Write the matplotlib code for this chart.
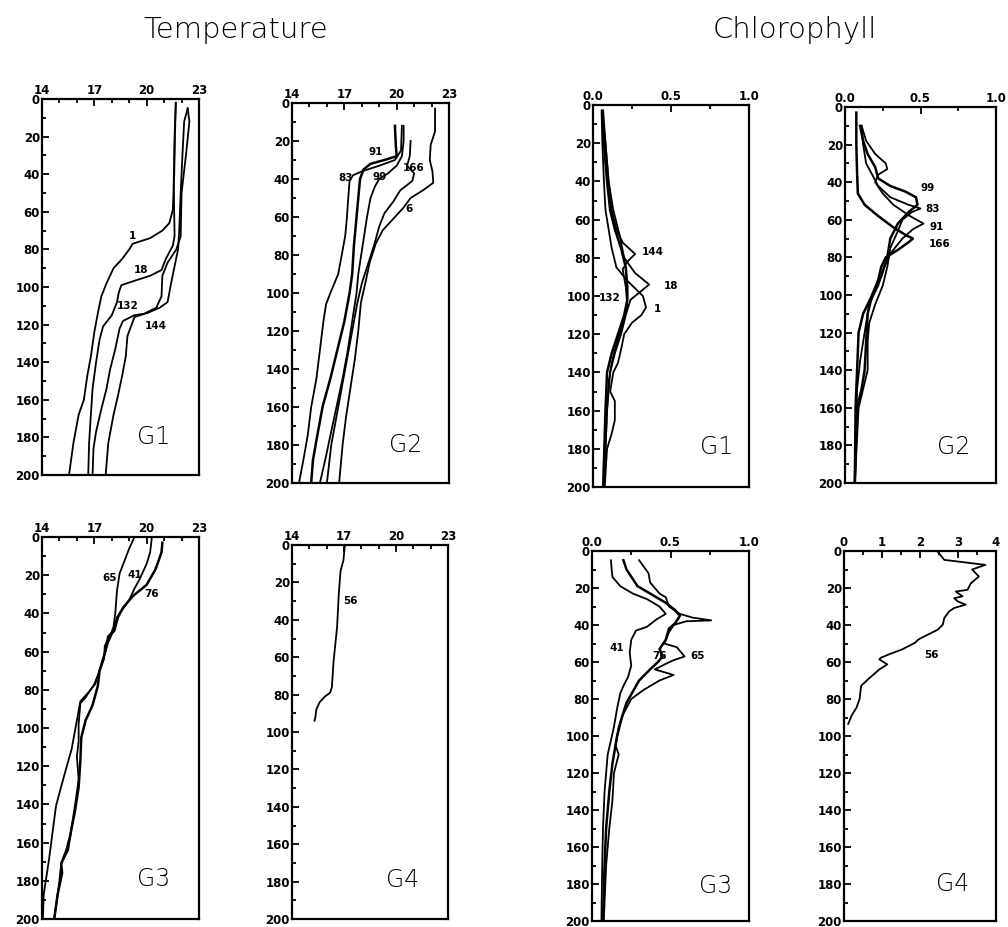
import matplotlib.pyplot as plt
from matplotlib.ticker import MultipleLocator

# ---- Temperature profiles (deg C vs depth m) ----
# G1
t_g1_s1_z = [2, 20, 40, 59, 66, 70, 74, 77, 80, 85, 90, 98, 105, 114, 124, 137, 147, 160, 168, 183, 200]
t_g1_s1_v = [21.67, 21.62, 21.58, 21.5, 21.3, 20.9, 20.2, 19.2, 19.0, 18.6, 18.1, 17.7, 17.4, 17.2, 17.0, 16.8, 16.6, 16.4, 16.1, 15.8, 15.55]
t_g1_s18_z = [2, 20, 45, 73, 78, 85, 91, 94, 97, 99, 103, 108, 115, 121, 128, 140, 154, 168, 183, 200]
t_g1_s18_v = [21.67, 21.6, 21.55, 21.6, 21.5, 21.1, 20.85, 20.2, 19.2, 18.55, 18.4, 18.3, 18.0, 17.5, 17.3, 17.1, 16.9, 16.8, 16.7, 16.65]
t_g1_s132_z = [5, 12, 30, 50, 71, 80, 89, 98, 108, 111, 114, 115, 118, 122, 133, 144, 154, 165, 177, 186, 200]
t_g1_s132_v = [22.35, 22.15, 22.05, 21.95, 21.86, 21.8, 21.6, 21.4, 21.2, 20.75, 20.0, 19.3, 18.65, 18.45, 18.2, 17.9, 17.7, 17.4, 17.1, 16.95, 16.9]
t_g1_s144_z = [5, 12, 30, 50, 73, 80, 87, 94, 105, 111, 114.5, 116, 121, 126, 137, 147, 158, 168, 183, 200]
t_g1_s144_v = [22.35, 22.45, 22.25, 22.0, 21.95, 21.7, 21.2, 20.9, 20.85, 20.55, 19.8, 19.3, 19.1, 18.9, 18.8, 18.6, 18.35, 18.1, 17.8, 17.65]

# G2
t_g2_s83_z = [12, 25, 30, 33, 36, 38, 41, 47, 53, 60, 70, 80, 90, 100, 106, 115, 130, 145, 160, 175, 188, 200]
t_g2_s83_v = [20.3, 20.25, 19.9, 19.0, 18.0, 17.5, 17.3, 17.25, 17.2, 17.15, 17.05, 16.85, 16.65, 16.2, 15.95, 15.8, 15.6, 15.4, 15.1, 14.9, 14.65, 14.4]
t_g2_s91_z = [12, 22, 28, 30, 32, 35, 40, 50, 60, 75, 90, 100, 115, 130, 145, 160, 175, 188, 200]
t_g2_s91_v = [19.9, 19.95, 20.0, 19.3, 18.5, 18.1, 17.9, 17.8, 17.7, 17.55, 17.45, 17.3, 17.0, 16.6, 16.2, 15.75, 15.45, 15.2, 15.1]
t_g2_s99_z = [12, 20, 28, 33, 37, 40, 44, 50, 60, 75, 90, 100, 115, 130, 145, 160, 175, 188, 200]
t_g2_s99_v = [20.4, 20.4, 20.3, 20.0, 19.5, 19.0, 18.75, 18.5, 18.3, 18.05, 17.8, 17.7, 17.45, 17.2, 16.9, 16.55, 16.2, 15.9, 15.6]
t_g2_s166_z = [20, 28, 33, 37, 41, 46, 52, 58, 65, 75, 85, 95, 105, 120, 135, 150, 165, 180, 200]
t_g2_s166_v = [20.8, 20.75, 20.6, 21.0, 20.9, 20.2, 19.8, 19.3, 19.0, 18.7, 18.35, 18.0, 17.75, 17.45, 17.15, 16.85, 16.55, 16.25, 16.0]
t_g2_s6_z = [3, 15, 22, 30, 36, 42, 46, 50, 55, 61, 67, 74, 84, 95, 105, 120, 135, 150, 165, 180, 200]
t_g2_s6_v = [22.2, 22.2, 21.95, 21.9, 22.05, 22.1, 21.5, 20.8, 20.4, 19.8, 19.2, 18.8, 18.45, 18.2, 17.95, 17.8, 17.6, 17.35, 17.1, 16.9, 16.7]

# G3
t_g3_s65_z = [0, 6, 12, 19, 28, 40, 47, 52, 57, 64, 70, 77, 84, 87, 98, 107, 115, 127, 140, 152, 164, 171, 180, 190, 200]
t_g3_s65_v = [19.3, 19.0, 18.75, 18.45, 18.3, 18.2, 18.1, 17.9, 17.6, 17.55, 17.3, 17.0, 16.5, 16.2, 16.1, 16.1, 16.0, 16.1, 15.9, 15.7, 15.5, 15.1, 15.0, 14.85, 14.7]
t_g3_s41_z = [0, 8, 14, 18, 22, 27, 33, 38, 42, 49, 55, 61, 70, 77, 82, 86, 96, 111, 124, 134, 141, 155, 169, 178, 187, 200]
t_g3_s41_v = [20.3, 20.2, 20.0, 19.8, 19.6, 19.3, 19.0, 18.6, 18.3, 18.1, 17.8, 17.6, 17.3, 17.05, 16.6, 16.2, 16.0, 15.7, 15.3, 15.0, 14.8, 14.6, 14.4, 14.25, 14.1, 14.05]
t_g3_s76_z = [3, 8, 12, 17, 25, 31, 37, 42, 49, 52, 61, 70, 78, 88, 96, 105, 117, 131, 143, 157, 164, 171, 176, 187, 200]
t_g3_s76_v = [20.9, 20.85, 20.7, 20.5, 20.0, 19.2, 18.65, 18.35, 18.15, 17.8, 17.6, 17.3, 17.2, 16.9, 16.5, 16.25, 16.2, 16.1, 15.9, 15.6, 15.4, 15.1, 15.15, 14.9, 14.7]

# G4
t_g4_s56_z = [0, 8, 14, 26, 44, 53, 62, 76, 79, 81, 84, 88, 92, 94]
t_g4_s56_v = [17.05, 16.97, 16.8, 16.7, 16.6, 16.5, 16.4, 16.3, 16.2, 15.9, 15.6, 15.4, 15.35, 15.3]

# ---- Chlorophyll profiles ----
# G1
c_g1_s144_z = [3, 20, 40, 55, 65, 72, 78, 82, 86, 95, 105, 115, 125, 135, 145, 160, 180, 200]
c_g1_s144_v = [0.065, 0.08, 0.10, 0.12, 0.15, 0.19, 0.27, 0.22, 0.19, 0.21, 0.22, 0.19, 0.15, 0.12, 0.10, 0.09, 0.08, 0.07]
c_g1_s18_z = [3, 20, 40, 55, 68, 80, 88, 94, 98, 102, 110, 120, 130, 140, 160, 180, 200]
c_g1_s18_v = [0.06, 0.08, 0.10, 0.13, 0.17, 0.20, 0.27, 0.36, 0.30, 0.24, 0.21, 0.18, 0.14, 0.11, 0.09, 0.08, 0.07]
c_g1_s1_z = [3, 20, 40, 55, 65, 75, 85, 92, 100, 106, 110, 114, 120, 128, 135, 140, 150, 155, 165, 172, 180, 200]
c_g1_s1_v = [0.055, 0.06, 0.07, 0.08, 0.10, 0.12, 0.15, 0.22, 0.32, 0.34, 0.31, 0.25, 0.20, 0.18, 0.16, 0.13, 0.11, 0.14, 0.14, 0.12, 0.09, 0.075]
c_g1_s132_z = [3, 20, 40, 55, 65, 75, 85, 95, 102, 110, 120, 130, 140, 160, 200]
c_g1_s132_v = [0.06, 0.07, 0.09, 0.11, 0.14, 0.18, 0.21, 0.22, 0.22, 0.20, 0.16, 0.12, 0.09, 0.08, 0.065]

# G2
c_g2_s99_z = [10, 18, 25, 32, 38, 42, 45, 48, 52, 56, 62, 70, 80, 90, 100, 110, 120, 140, 160, 200]
c_g2_s99_v = [0.10, 0.12, 0.15, 0.20, 0.22, 0.30, 0.40, 0.47, 0.48, 0.42, 0.35, 0.30, 0.28, 0.24, 0.18, 0.12, 0.09, 0.08, 0.07, 0.065]
c_g2_s83_z = [10, 20, 30, 36, 42, 48, 52, 54, 56, 60, 66, 75, 85, 95, 105, 115, 125, 140, 150, 160, 200]
c_g2_s83_v = [0.11, 0.12, 0.14, 0.18, 0.22, 0.30, 0.42, 0.50, 0.44, 0.38, 0.35, 0.30, 0.28, 0.25, 0.20, 0.16, 0.15, 0.15, 0.12, 0.09, 0.065]
c_g2_s91_z = [10, 18, 25, 30, 33, 36, 40, 46, 52, 58, 62, 65, 70, 78, 85, 95, 105, 120, 135, 150, 200]
c_g2_s91_v = [0.11, 0.14, 0.20, 0.27, 0.28, 0.22, 0.20, 0.25, 0.32, 0.43, 0.52, 0.45, 0.38, 0.30, 0.26, 0.22, 0.16, 0.13, 0.10, 0.08, 0.065]
c_g2_s166_z = [3, 20, 35, 46, 52, 58, 64, 68, 70, 72, 76, 80, 85, 92, 100, 110, 125, 140, 150, 160, 200]
c_g2_s166_v = [0.075, 0.075, 0.08, 0.085, 0.13, 0.22, 0.32, 0.40, 0.45, 0.42, 0.35, 0.27, 0.24, 0.22, 0.18, 0.15, 0.14, 0.13, 0.11, 0.08, 0.065]

# G3
c_g3_s41_z = [5, 14, 19, 23, 26, 30, 34, 37, 41, 43, 48, 55, 62, 68, 73, 77, 85, 95, 110, 130, 150, 170, 200]
c_g3_s41_v = [0.12, 0.13, 0.18, 0.26, 0.35, 0.43, 0.47, 0.41, 0.35, 0.28, 0.25, 0.24, 0.25, 0.23, 0.20, 0.18, 0.16, 0.14, 0.10, 0.08, 0.07, 0.065, 0.06]
c_g3_s76_z = [5, 10, 19, 24, 28, 32, 35, 39, 42, 48, 53, 57, 60, 64, 70, 76, 82, 90, 100, 115, 130, 150, 170, 200]
c_g3_s76_v = [0.20, 0.22, 0.29, 0.39, 0.47, 0.53, 0.56, 0.53, 0.49, 0.47, 0.43, 0.45, 0.42, 0.37, 0.30, 0.26, 0.22, 0.19, 0.16, 0.13, 0.11, 0.09, 0.08, 0.07]
c_g3_s65_z = [5, 12, 17, 23, 25, 30, 34, 36, 37.5, 38, 40, 44, 50, 52, 57, 59, 61, 64, 67, 70, 75, 80, 88, 95, 105, 110, 120, 135, 150, 170, 200]
c_g3_s65_v = [0.30, 0.36, 0.37, 0.43, 0.47, 0.49, 0.56, 0.64, 0.76, 0.60, 0.52, 0.49, 0.46, 0.54, 0.59, 0.52, 0.47, 0.40, 0.52, 0.43, 0.33, 0.25, 0.20, 0.17, 0.15, 0.17, 0.14, 0.13, 0.11, 0.09, 0.075]

# G4
c_g4_s56_z = [0, 4.8, 7.5, 10, 13.8, 17.4, 21, 21.9, 24.5, 25.5, 27.2, 29, 30.8, 32.6, 36.2, 39.8, 42.5, 46, 47.8, 49.6,
              51.4, 53.2, 55.9, 57.7, 58.6, 61.3, 64, 69.4, 72.9, 80, 84.6, 89, 93.5]
c_g4_s56_v = [2.45, 2.64, 3.72, 3.37, 3.55, 3.34, 3.25, 2.94, 3.12, 2.9, 2.99, 3.2, 2.9, 2.77, 2.64, 2.6, 2.47, 2.13, 1.96, 1.87,
              1.7, 1.53, 1.18, 0.97, 0.93, 1.14, 0.93, 0.63, 0.45, 0.41, 0.33, 0.2, 0.11]

temp_ticks = [14, 17, 20, 23]
chl_ticks = [0.0, 0.5, 1.0]
chl_tick_labels = ['0.0', '0.5', '1.0']
chl_g4_ticks = [0, 1, 2, 3, 4]

W, H = 1008, 927
fig = plt.figure(figsize=(W / 100, H / 100), dpi=100)


def make_axes(x0, y0, x1, y1):
    # pixel box -> figure fraction
    return fig.add_axes([x0 / W, 1 - y1 / H, (x1 - x0) / W, (y1 - y0) / H])


def style(ax, xlim, ticks, labels, minor):
    ax.set_xlim(*xlim)
    ax.set_ylim(200, 0)
    ax.xaxis.tick_top()
    ax.set_xticks(ticks)
    ax.set_xticklabels(labels)
    ax.xaxis.set_minor_locator(MultipleLocator(minor))
    ax.yaxis.set_major_locator(MultipleLocator(20))
    ax.yaxis.set_minor_locator(MultipleLocator(10))
    ax.tick_params(which='both', direction='in', top=True, bottom=False,
                   left=True, right=False, width=1.3, colors='black')
    ax.tick_params(which='major', length=5, labelsize=8.5, pad=1.5)
    ax.tick_params(which='minor', length=3)
    for lab in ax.get_xticklabels() + ax.get_yticklabels():
        lab.set_fontweight('bold')
    for sp in ax.spines.values():
        sp.set_linewidth(1.6)


def profile(ax, z, v, lw=1.3):
    ax.plot(v, z, color='black', lw=lw, solid_joinstyle='round')


def tag(ax, x, z, s):
    ax.text(x, z, s, fontsize=7.5, fontweight='bold', ha='center', va='center')


def panel_name(ax, x, z, s):
    ax.text(x, z, s, fontsize=17, fontweight='light', ha='center', va='center')


# Temperature G1
ax = make_axes(42, 99, 199, 475)
style(ax, (14, 23), temp_ticks, temp_ticks, 1)
profile(ax, t_g1_s1_z, t_g1_s1_v)
profile(ax, t_g1_s18_z, t_g1_s18_v)
profile(ax, t_g1_s132_z, t_g1_s132_v)
profile(ax, t_g1_s144_z, t_g1_s144_v)
tag(ax, 19.2, 73, '1')
tag(ax, 19.7, 91, '18')
tag(ax, 18.9, 110, '132')
tag(ax, 20.5, 121, '144')
panel_name(ax, 20.4, 180, 'G1')

# Temperature G2
ax = make_axes(292, 103, 449, 483)
style(ax, (14, 23), temp_ticks, temp_ticks, 1)
profile(ax, t_g2_s83_z, t_g2_s83_v)
profile(ax, t_g2_s91_z, t_g2_s91_v, lw=1.8)
profile(ax, t_g2_s99_z, t_g2_s99_v)
profile(ax, t_g2_s166_z, t_g2_s166_v)
profile(ax, t_g2_s6_z, t_g2_s6_v)
tag(ax, 18.8, 26, '91')
tag(ax, 17.05, 39.5, '83')
tag(ax, 19.0, 38.7, '99')
tag(ax, 21.0, 34, '166')
tag(ax, 20.7, 56, '6')
panel_name(ax, 20.5, 180, 'G2')

# Chlorophyll G1
ax = make_axes(593, 105, 749, 487)
style(ax, (0, 1), chl_ticks, chl_tick_labels, 0.25)
profile(ax, c_g1_s144_z, c_g1_s144_v)
profile(ax, c_g1_s18_z, c_g1_s18_v)
profile(ax, c_g1_s1_z, c_g1_s1_v)
profile(ax, c_g1_s132_z, c_g1_s132_v, lw=1.8)
tag(ax, 0.385, 77, '144')
tag(ax, 0.50, 95, '18')
tag(ax, 0.41, 107, '1')
tag(ax, 0.107, 101, '132')
panel_name(ax, 0.79, 179, 'G1')

# Chlorophyll G2
ax = make_axes(845, 107, 996, 483)
style(ax, (0, 1), chl_ticks, chl_tick_labels, 0.25)
profile(ax, c_g2_s99_z, c_g2_s99_v, lw=1.8)
profile(ax, c_g2_s83_z, c_g2_s83_v)
profile(ax, c_g2_s91_z, c_g2_s91_v)
profile(ax, c_g2_s166_z, c_g2_s166_v, lw=1.8)
tag(ax, 0.55, 43, '99')
tag(ax, 0.58, 54.5, '83')
tag(ax, 0.61, 64, '91')
tag(ax, 0.63, 73, '166')
panel_name(ax, 0.72, 181, 'G2')

# Temperature G3
ax = make_axes(42, 537, 199, 919)
style(ax, (14, 23), temp_ticks, temp_ticks, 1)
profile(ax, t_g3_s65_z, t_g3_s65_v)
profile(ax, t_g3_s41_z, t_g3_s41_v)
profile(ax, t_g3_s76_z, t_g3_s76_v, lw=1.8)
tag(ax, 17.9, 21.7, '65')
tag(ax, 19.3, 19.9, '41')
tag(ax, 20.3, 29.6, '76')
panel_name(ax, 20.4, 179, 'G3')

# Temperature G4
ax = make_axes(292, 545, 448, 919)
style(ax, (14, 23), temp_ticks, temp_ticks, 1)
profile(ax, t_g4_s56_z, t_g4_s56_v)
tag(ax, 17.35, 29.8, '56')
panel_name(ax, 20.4, 179, 'G4')

# Chlorophyll G3
ax = make_axes(592, 551, 749, 921)
style(ax, (0, 1), chl_ticks, chl_tick_labels, 0.25)
profile(ax, c_g3_s41_z, c_g3_s41_v)
profile(ax, c_g3_s76_z, c_g3_s76_v, lw=1.8)
profile(ax, c_g3_s65_z, c_g3_s65_v)
tag(ax, 0.155, 52.3, '41')
tag(ax, 0.43, 57, '76')
tag(ax, 0.675, 57, '65')
panel_name(ax, 0.79, 181, 'G3')

# Chlorophyll G4
ax = make_axes(844, 551, 996, 921)
style(ax, (0, 4), chl_g4_ticks, chl_g4_ticks, 0.5)
profile(ax, c_g4_s56_z, c_g4_s56_v)
tag(ax, 2.3, 56, '56')
panel_name(ax, 2.86, 180, 'G4')

# column headings
fig.text(236 / W, 1 - 30 / H, 'Temperature', ha='center', va='center',
         fontsize=21, fontweight='light')
fig.text(795 / W, 1 - 30 / H, 'Chlorophyll', ha='center', va='center',
         fontsize=21, fontweight='light')

fig.savefig('out.png', dpi=100)
